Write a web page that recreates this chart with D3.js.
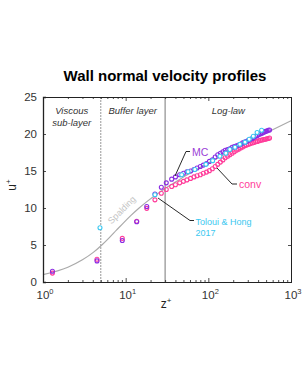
<!DOCTYPE html>
<html>
<head>
<meta charset="utf-8">
<script src="https://cdn.jsdelivr.net/npm/d3@7"></script>
<style>
  body{margin:0;background:#fff;}
  svg{display:block;font-family:"Liberation Sans",Arial,Helvetica,sans-serif;}
</style>
</head>
<body>
<div id="chart"></div>
<script>
// data
var zMC=[1.3,4.5,9.1,13.6,18,22.6,27,31,36,40,45,50,55,61,67,73,80,87,95,103,112,121,130,140,150,160,171,182,194,206,219,232,246,260,275,290,306,322,339,356,374,392,411,430,450,470,490,510,530,550];
var uMC=[1.45,2.85,5.6,8.15,10.2,11.9,12.8,13.4,13.9,14.2,14.5,14.7,14.9,15.0,15.2,15.4,15.6,15.8,16.0,16.3,16.5,16.9,17.2,17.4,17.6,17.8,17.9,18.0,18.2,18.3,18.4,18.5,18.6,18.8,18.9,19.0,19.15,19.3,19.4,19.55,19.7,19.8,19.95,20.05,20.15,20.25,20.35,20.4,20.5,20.55];
var uConv=[1.2,3.07,5.9,8.2,9.95,11.1,12.0,12.5,12.9,13.15,13.4,13.6,13.8,14.0,14.2,14.35,14.5,14.7,14.85,15.05,15.3,15.6,15.9,16.2,16.5,16.8,17.0,17.2,17.4,17.6,17.8,17.95,18.1,18.25,18.4,18.5,18.6,18.7,18.8,18.85,18.95,19.0,19.1,19.15,19.2,19.25,19.3,19.35,19.4,19.45];
var zTH=[4.89,22.6,47.6,56.9,68.7,93.5,112.8,138,163,182,210,241,278,312,350,389,441];
var uTH=[7.34,11.8,14.5,14.9,15.2,15.9,16.4,17.0,17.4,17.9,18.2,18.6,18.9,19.3,19.7,20.2,20.5];
// Spalding law curve
var zSp=[1,2,3,4.06,5.15,6.35,7.73,9.42,11.6,14.55,18.7,24.8,33.7,47,67,97,142.5,211,471,1000];
var uSp=[1,2,3,4,5,6,7,8,9,10,11,12,13,14,15,16,17,18,20,21.8];
var xTicks=[1,10,100,1000];
var xTickExp=["0","1","2","3"];
var yTicks=[0,5,10,15,20,25];
var regionBounds=[5,30];

var W=304,H=382;
var svg=d3.select("#chart").append("svg").attr("width",W).attr("height",H);
svg.append("rect").attr("width",W).attr("height",H).attr("fill","#fff");

var x=d3.scaleLog().domain([1,1000]).range([43,291]);
var y=d3.scaleLinear().domain([0,25]).range([282,97]);

//标题
svg.append("text").attr("x",165).attr("y",81).attr("text-anchor","middle")
  .attr("font-size","15px").attr("font-weight","bold").attr("fill","#000")
  .text("Wall normal velocity profiles");

//区域分割线
svg.append("line").attr("x1",x(regionBounds[0])).attr("x2",x(regionBounds[0]))
  .attr("y1",y(25)).attr("y2",y(0)).attr("stroke","#999").attr("stroke-width",1)
  .attr("stroke-dasharray","2,1");
svg.append("line").attr("x1",x(regionBounds[1])).attr("x2",x(regionBounds[1]))
  .attr("y1",y(25)).attr("y2",y(0)).attr("stroke","#555").attr("stroke-width",0.8);

//区域文字
var regLab=[["Viscous",71.7,114],["sub-layer",71.7,126],["Buffer layer",132.7,114],["Log-law",228.3,114]];
svg.append("g").selectAll("text").data(regLab).enter().append("text")
  .attr("x",function(d){return d[1];}).attr("y",function(d){return d[2];})
  .attr("text-anchor","middle").attr("font-size","9.5px").attr("font-style","italic")
  .attr("fill","#333").text(function(d){return d[0];});

//Spalding 曲线
var line=d3.line().x(function(d){return x(d[0]);}).y(function(d){return y(d[1]);}).curve(d3.curveMonotoneX);
svg.append("path").attr("d",line(d3.zip(zSp,uSp))).attr("fill","none")
  .attr("stroke","#aaa").attr("stroke-width",1.2);
svg.append("text").attr("transform","translate(124,212) rotate(-45)")
  .attr("text-anchor","middle").attr("font-size","9px").attr("fill","#c4c4c4").text("Spalding");

//坐标轴
var gx=svg.append("g").attr("transform","translate(0,"+y(0)+")");
var minorX=[];
[1,10,100].forEach(function(b){for(var k=2;k<10;k++)minorX.push(b*k);});
gx.call(d3.axisBottom(x).tickValues(minorX).tickSize(-2).tickFormat(""));
gx.append("g").call(d3.axisBottom(x).tickValues(xTicks).tickSize(-4).tickFormat(""));
var gxt=svg.append("g").attr("transform","translate(0,"+y(25)+")");
gxt.call(d3.axisTop(x).tickValues(minorX).tickSize(-2).tickFormat(""));
gxt.append("g").call(d3.axisTop(x).tickValues(xTicks).tickSize(-4).tickFormat(""));
var gy=svg.append("g").attr("transform","translate("+x(1)+",0)");
gy.call(d3.axisLeft(y).tickValues(yTicks).tickSize(-3).tickPadding(6).tickFormat(d3.format("d")));
var gyr=svg.append("g").attr("transform","translate("+x(1000)+",0)");
gyr.call(d3.axisRight(y).tickValues(yTicks).tickSize(-3).tickFormat(""));
svg.selectAll(".domain").attr("stroke","#222").attr("stroke-width",1);
svg.selectAll(".tick line").attr("stroke","#222").attr("stroke-width",0.8);
gy.selectAll("text").attr("font-size","11.5px").attr("fill","#333")
  .attr("font-family","Liberation Sans,Arial,sans-serif");
gy.select(".domain").attr("stroke-width",1.3);

//x轴标签 10^n
var xl=svg.append("g").selectAll("text").data(xTicks).enter().append("text")
  .attr("x",function(d){return x(d)+2;}).attr("y",299)
  .attr("text-anchor","middle").attr("font-size","11.5px").attr("fill","#333");
xl.append("tspan").text("10");
xl.append("tspan").attr("dy",-5).attr("font-size","7.5px").text(function(d,i){return xTickExp[i];});

//轴名
var xt=svg.append("text").attr("x",166).attr("y",308).attr("text-anchor","middle")
  .attr("font-size","12px").attr("fill","#222");
xt.append("tspan").text("z");
xt.append("tspan").attr("dy",-5).attr("font-size","8px").text("+");
var yt=svg.append("text").attr("transform","translate(16,185) rotate(-90)").attr("text-anchor","middle")
  .attr("font-size","12px").attr("fill","#222");
yt.append("tspan").text("u");
yt.append("tspan").attr("dy",-5).attr("font-size","8px").text("+");

//数据点
function drawPts(zs,us,col,fill){
  svg.append("g").selectAll("circle").data(d3.zip(zs,us)).enter().append("circle")
    .attr("cx",function(d){return x(d[0]);}).attr("cy",function(d){return y(d[1]);})
    .attr("r",2).attr("fill",fill).attr("stroke",col).attr("stroke-width",1.1);
}
drawPts(zMC,uConv,"#ff3d9a","none");
drawPts(zMC,uMC,"#8a2be2","none");
drawPts(zTH,uTH,"#3cc8f0","#fff");

//标注线
var ann=[
  {pts:[[190,151.5],[186,151.5],[175,176]],txt:["MC"],tx:192,ty:155.5,col:"#9b3fd6"},
  {pts:[[217,168],[232,184],[237,184]],txt:["conv"],tx:239,ty:188,col:"#ff3d9a"},
  {pts:[[158,198],[190,220.5],[194,220.5]],txt:["Toloui & Hong","2017"],tx:195.5,ty:224.5,col:"#3cc8f0"}
];
ann.forEach(function(a){
  svg.append("path").attr("d",d3.line()(a.pts)).attr("fill","none")
    .attr("stroke","#111").attr("stroke-width",0.9);
  var t=svg.append("text").attr("x",a.tx).attr("y",a.ty).attr("fill",a.col)
    .attr("font-size",a.txt.length>1?"9px":"10.5px");
  a.txt.forEach(function(s,i){
    t.append("tspan").attr("x",a.tx).attr("dy",i==0?0:11).text(s);
  });
});
</script>
</body>
</html>
